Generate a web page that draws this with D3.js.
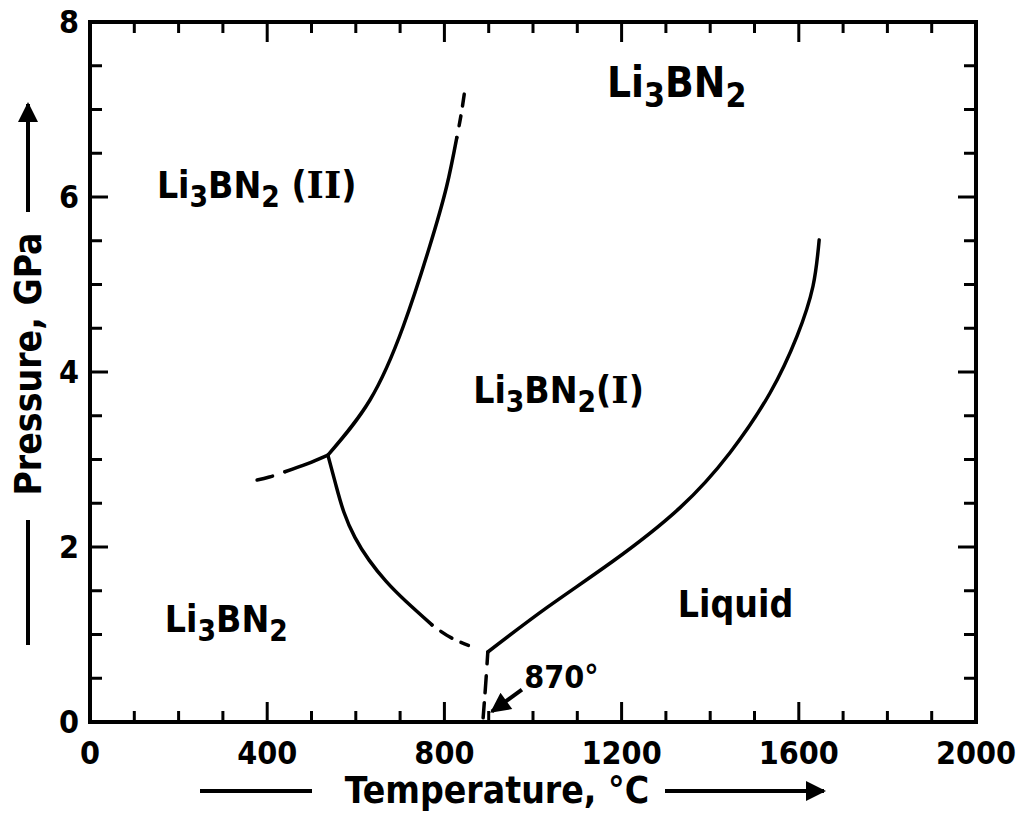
<!DOCTYPE html>
<html>
<head>
<meta charset="utf-8">
<title>Li3BN2 phase diagram</title>
<script src="https://cdn.jsdelivr.net/npm/d3@7"></script>
<style>
  body { margin: 0; background: #fff; }
  svg text { font-family: "DejaVu Sans Condensed", "DejaVu Sans", sans-serif; fill: #000; }
</style>
</head>
<body>
<div id="chart"></div>
<script>
// axis ticks
var tempTicks = [0, 400, 800, 1200, 1600, 2000];
var pressTicks = [0, 2, 4, 6, 8];
var tempMinor = d3.range(0, 2001, 100);
var pressMinor = d3.range(0, 8.01, 0.5);

// phase boundaries, [temperature degC, pressure GPa]
var boundaryIIupper = [[537, 3.05], [632, 3.68], [707, 4.52], [767, 5.44], [805, 6.12], [828, 6.68]];
var boundaryIIupperDash = [[828, 6.68], [838, 6.95], [846, 7.22]];
var boundaryIIlow = [[537, 3.05], [490, 2.95], [440, 2.86]];
var boundaryIIlowDash = [[440, 2.86], [405, 2.8], [372, 2.76]];
var boundaryIlow = [[537, 3.05], [555, 2.71], [573, 2.4], [598, 2.11], [630, 1.85], [668, 1.61], [713, 1.38], [772, 1.11]];
var boundaryIlowDash = [[772, 1.11], [824, 0.94], [898, 0.8]];
var boundaryVertDash = [[898, 0.8], [893, 0.42], [887, 0.02]];
var meltingCurve = [[898, 0.8], [1032, 1.31], [1181, 1.84], [1332, 2.45], [1445, 3.08], [1535, 3.76], [1596, 4.41], [1632, 4.98], [1646, 5.51]];

var width = 1024, height = 819;
var x = d3.scaleLinear().domain([0, 2000]).range([90, 976]);
var y = d3.scaleLinear().domain([0, 8]).range([722, 22]);

var svg = d3.select("#chart").append("svg")
    .attr("width", width)
    .attr("height", height);

var defs = svg.append("defs");
defs.append("marker")
    .attr("id", "head")
    .attr("viewBox", "0 0 10 10")
    .attr("refX", 9).attr("refY", 5)
    .attr("markerWidth", 7).attr("markerHeight", 5)
    .attr("markerUnits", "strokeWidth")
    .attr("orient", "auto")
  .append("path")
    .attr("d", "M0,0 L10,5 L0,10 Z")
    .attr("fill", "#000");

// frame
svg.append("rect")
    .attr("x", x(0)).attr("y", y(8))
    .attr("width", x(2000) - x(0)).attr("height", y(0) - y(8))
    .attr("fill", "none").attr("stroke", "#000").attr("stroke-width", 4);

// inward ticks on all four sides
var ticks = svg.append("g").attr("stroke", "#000").attr("stroke-width", 3);
tempMinor.forEach(function(t) {
  if (t == 0 || t == 2000) return;
  var len = t % 400 == 0 ? 20 : 11;
  ticks.append("line").attr("x1", x(t)).attr("x2", x(t)).attr("y1", y(0)).attr("y2", y(0) - len);
  ticks.append("line").attr("x1", x(t)).attr("x2", x(t)).attr("y1", y(8)).attr("y2", y(8) + len);
});
pressMinor.forEach(function(p) {
  if (p == 0 || p == 8) return;
  var len = p % 2 == 0 ? 18 : 12;
  ticks.append("line").attr("x1", x(0)).attr("x2", x(0) + len).attr("y1", y(p)).attr("y2", y(p));
  ticks.append("line").attr("x1", x(2000)).attr("x2", x(2000) - len).attr("y1", y(p)).attr("y2", y(p));
});

// tick labels
svg.append("g").selectAll("text")
  .data(tempTicks).enter().append("text")
    .attr("x", function(d) { return x(d); })
    .attr("y", 764)
    .attr("text-anchor", "middle")
    .style("font-size", "32px").style("font-weight", "bold")
    .text(function(d) { return d; });
svg.append("g").selectAll("text")
  .data(pressTicks).enter().append("text")
    .attr("x", 79)
    .attr("y", function(d) { return y(d) + 11; })
    .attr("text-anchor", "end")
    .style("font-size", "32px").style("font-weight", "bold")
    .text(function(d) { return d; });

// axis titles with arrows
svg.append("text")
    .attr("x", 497).attr("y", 803)
    .attr("text-anchor", "middle")
    .style("font-size", "37px").style("font-weight", "bold")
    .text("Temperature, \u00b0C");
svg.append("line").attr("x1", 200).attr("x2", 312).attr("y1", 791).attr("y2", 791)
    .attr("stroke", "#000").attr("stroke-width", 4);
svg.append("line").attr("x1", 665).attr("x2", 824).attr("y1", 791).attr("y2", 791)
    .attr("stroke", "#000").attr("stroke-width", 4).attr("marker-end", "url(#head)");

svg.append("text")
    .attr("transform", "translate(41,364) rotate(-90)")
    .attr("text-anchor", "middle")
    .style("font-size", "37px").style("font-weight", "bold")
    .text("Pressure, GPa");
svg.append("line").attr("x1", 28).attr("x2", 28).attr("y1", 212).attr("y2", 104)
    .attr("stroke", "#000").attr("stroke-width", 4).attr("marker-end", "url(#head)");
svg.append("line").attr("x1", 28).attr("x2", 28).attr("y1", 520).attr("y2", 645)
    .attr("stroke", "#000").attr("stroke-width", 4);

// boundaries
var line = d3.line()
    .x(function(d) { return x(d[0]); })
    .y(function(d) { return y(d[1]); })
    .curve(d3.curveNatural);

var curves = svg.append("g").attr("fill", "none").attr("stroke", "#000")
    .attr("stroke-width", 3.5).attr("stroke-linecap", "round");
[boundaryIIupper, boundaryIIlow, boundaryIlow, meltingCurve].forEach(function(pts) {
  curves.append("path").attr("d", line(pts));
});
curves.append("path").attr("d", line(boundaryIIupperDash)).attr("stroke-dasharray", "0,12,10,10,12,100");
curves.append("path").attr("d", line(boundaryIIlowDash)).attr("stroke-dasharray", "0,13,16,100");
curves.append("path").attr("d", line(boundaryIlowDash)).attr("stroke-dasharray", "0,11,13,10,8,100");
curves.append("path").attr("d", line(boundaryVertDash)).attr("stroke-dasharray", "12,12,17,10,15,100");

// 870 deg annotation arrow
svg.append("line")
    .attr("x1", x(975)).attr("y1", y(0.37))
    .attr("x2", x(907)).attr("y2", y(0.12))
    .attr("stroke", "#000").attr("stroke-width", 4).attr("marker-end", "url(#head)");
svg.append("text")
    .attr("x", x(980)).attr("y", y(0.39))
    .style("font-size", "32px").style("font-weight", "bold")
    .text("870\u00b0");

// region labels
function formula(t, p, size, tail) {
  var txt = svg.append("text")
      .attr("x", x(t)).attr("y", y(p))
      .style("font-size", size + "px").style("font-weight", "bold");
  txt.append("tspan").text("Li");
  txt.append("tspan").attr("dy", "0.3em").style("font-size", "80%").text("3");
  txt.append("tspan").attr("dy", "-0.24em").text("BN");
  txt.append("tspan").attr("dy", "0.3em").style("font-size", "80%").text("2");
  if (tail) {
    txt.append("tspan").attr("dy", "-0.24em").text(tail[0]);
    txt.append("tspan").style("font-family", "'DejaVu Serif'").text(tail[1]);
    txt.append("tspan").text(")");
  }
}
formula(1167, 7.14, 42);
formula(151, 5.99, 37, [" (", "II"]);
formula(865, 3.65, 37, ["(", "I"]);
formula(169, 1.03, 37);
svg.append("text")
    .attr("x", x(1327)).attr("y", y(1.2))
    .style("font-size", "37px").style("font-weight", "bold")
    .text("Liquid");
</script>
</body>
</html>
